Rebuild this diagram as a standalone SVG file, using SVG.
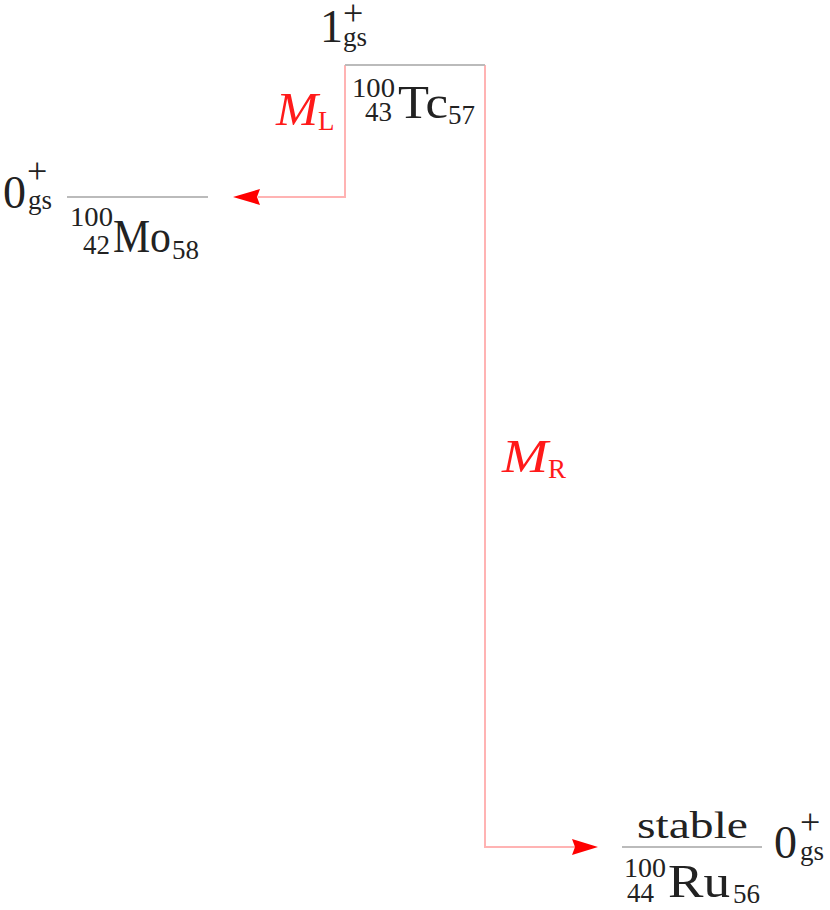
<svg xmlns="http://www.w3.org/2000/svg" width="830" height="910" viewBox="0 0 830 910">
<style>
.t{font-family:"Liberation Serif","DejaVu Serif",serif;fill:#222}
.big{font-size:46px}
.st{font-size:38px}
.sc{font-size:27px}
.pl{font-size:36px}
.red{fill:#ff1a1a}
.it{font-style:italic}
.lvl{stroke:#bbbbbb;stroke-width:2;fill:none}
.con{stroke:#ffb3b3;stroke-width:2;fill:none}
.head{fill:#ff0000}
</style>
<rect width="830" height="910" fill="#ffffff"/>
<g id="connectors">
<path class="con" d="M345,65 V197 H258"/>
<polygon class="head" points="233,197 260,189 257,197 260,205"/>
<path class="con" d="M485,65 V847 H575"/>
<polygon class="head" points="598,847 572,839 575,847 572,855"/>
<g id="label-ML">
<text class="t red big it" x="276" y="125" textLength="42" lengthAdjust="spacingAndGlyphs">M</text>
<text class="t red sc" x="318" y="130">L</text>
</g>
<g id="label-MR">
<text class="t red big it" x="502" y="472" textLength="46" lengthAdjust="spacingAndGlyphs">M</text>
<text class="t red sc" x="548" y="478">R</text>
</g>
</g>
<g id="node-Tc">
<line class="lvl" x1="345" y1="65" x2="485" y2="65"/>
<text class="t big" x="320" y="42">1</text>
<text class="t pl" x="343" y="25">+</text>
<text class="t sc" x="343" y="46">gs</text>
<text class="t sc" x="352" y="97" textLength="43" lengthAdjust="spacingAndGlyphs">100</text>
<text class="t sc" x="365" y="121">43</text>
<text class="t big" x="398" y="118" textLength="50" lengthAdjust="spacingAndGlyphs">Tc</text>
<text class="t sc" x="448" y="124">57</text>
</g>
<g id="node-Mo">
<line class="lvl" x1="67" y1="197" x2="208" y2="197"/>
<text class="t big" x="3" y="208">0</text>
<text class="t pl" x="27" y="183">+</text>
<text class="t sc" x="28" y="209">gs</text>
<text class="t sc" x="70" y="226" textLength="43" lengthAdjust="spacingAndGlyphs">100</text>
<text class="t sc" x="83" y="254">42</text>
<text class="t big" x="113" y="252" textLength="58" lengthAdjust="spacingAndGlyphs">Mo</text>
<text class="t sc" x="172" y="259">58</text>
</g>
<g id="node-Ru">
<line class="lvl" x1="622" y1="847" x2="762" y2="847"/>
<text class="t st" x="637" y="838" textLength="111" lengthAdjust="spacingAndGlyphs">stable</text>
<text class="t sc" x="624" y="877" textLength="42" lengthAdjust="spacingAndGlyphs">100</text>
<text class="t sc" x="627" y="902">44</text>
<text class="t big" x="668" y="897" textLength="62" lengthAdjust="spacingAndGlyphs">Ru</text>
<text class="t sc" x="733" y="903">56</text>
<text class="t big" x="774" y="858">0</text>
<text class="t pl" x="800" y="834">+</text>
<text class="t sc" x="800" y="860">gs</text>
</g>
</svg>
